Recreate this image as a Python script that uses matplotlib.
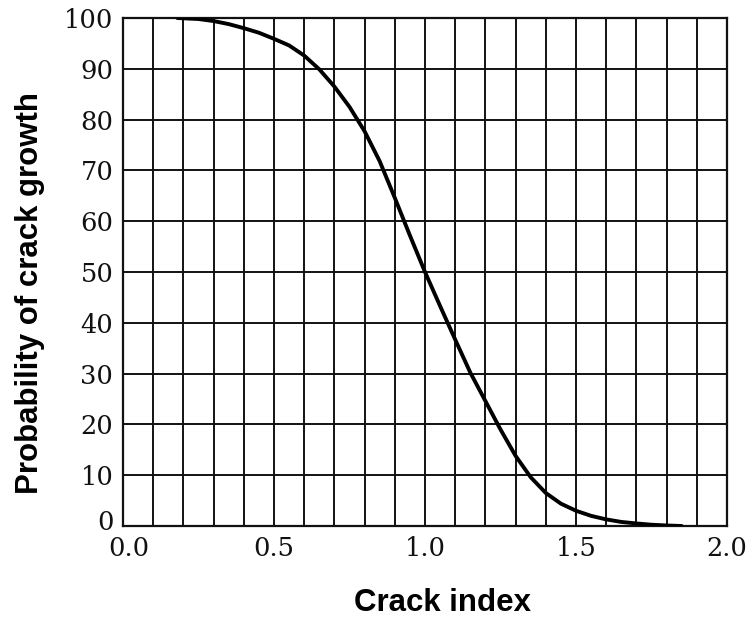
import matplotlib
matplotlib.use("Agg")
import matplotlib.pyplot as plt
import matplotlib.transforms as mtransforms
import numpy as np

# values
crack_index = [0.18, 0.25, 0.3, 0.35, 0.4, 0.45, 0.5, 0.55, 0.6, 0.65, 0.7,
               0.75, 0.8, 0.85, 0.9, 0.95, 1.0, 1.05, 1.1, 1.15, 1.2, 1.25,
               1.3, 1.35, 1.4, 1.45, 1.5, 1.55, 1.6, 1.65, 1.7, 1.75, 1.8, 1.85]
probability = [100, 99.8, 99.4, 98.8, 98.0, 97.1, 95.9, 94.6, 92.6, 89.9, 86.5,
               82.5, 77.7, 71.8, 64.6, 57.2, 50.0, 43.3, 36.7, 30.2, 24.6, 19.0,
               13.8, 9.6, 6.5, 4.4, 3.0, 2.0, 1.3, 0.8, 0.5, 0.25, 0.1, 0.0]

x_ticks = np.round(np.arange(0, 2.01, 0.1), 1)
y_ticks = list(range(0, 101, 10))

fig = plt.figure(figsize=(7.5, 6.17), dpi=100)
ax = fig.add_axes([123 / 750, 91 / 617, 604 / 750, 508 / 617])

ax.plot(crack_index, probability, color="black", linewidth=2.8,
        solid_capstyle="round", solid_joinstyle="round", zorder=3)

ax.set_xlim(0, 2.0)
ax.set_ylim(0, 100)
ax.set_xticks(x_ticks)
ax.set_xticklabels([f"{t:.1f}" if round(t * 10) % 5 == 0 else "" for t in x_ticks])
ax.set_yticks(y_ticks)
ax.set_yticklabels([str(t) for t in y_ticks])
ax.tick_params(length=0, labelsize=18.5, pad=7)
for lab in ax.get_xticklabels() + ax.get_yticklabels():
    lab.set_fontfamily("DejaVu Serif")
    lab.set_color("#111111")

# nudge the two labels at the origin apart, as in the original
ylab0 = ax.get_yticklabels()[0]
ylab0.set_transform(ylab0.get_transform()
                    + mtransforms.ScaledTranslation(0, 6 / 100, fig.dpi_scale_trans))
xlab0 = ax.get_xticklabels()[0]
xlab0.set_transform(xlab0.get_transform()
                    + mtransforms.ScaledTranslation(6 / 100, 0, fig.dpi_scale_trans))

ax.grid(True, color="#111111", linewidth=1.4)
for s in ax.spines.values():
    s.set_linewidth(1.6)
    s.set_color("#111111")

fig.text(443 / 750, (617 - 611) / 617, "Crack index", ha="center",
         va="baseline", fontsize=22.5, fontweight="bold", family="Liberation Sans")
fig.text(38 / 750, 1 - 293 / 617, "Probability of crack growth", ha="center",
         va="baseline", rotation=90, rotation_mode="anchor", fontsize=22.5,
         fontweight="bold", family="Liberation Sans")

fig.savefig("out.png", dpi=100)
